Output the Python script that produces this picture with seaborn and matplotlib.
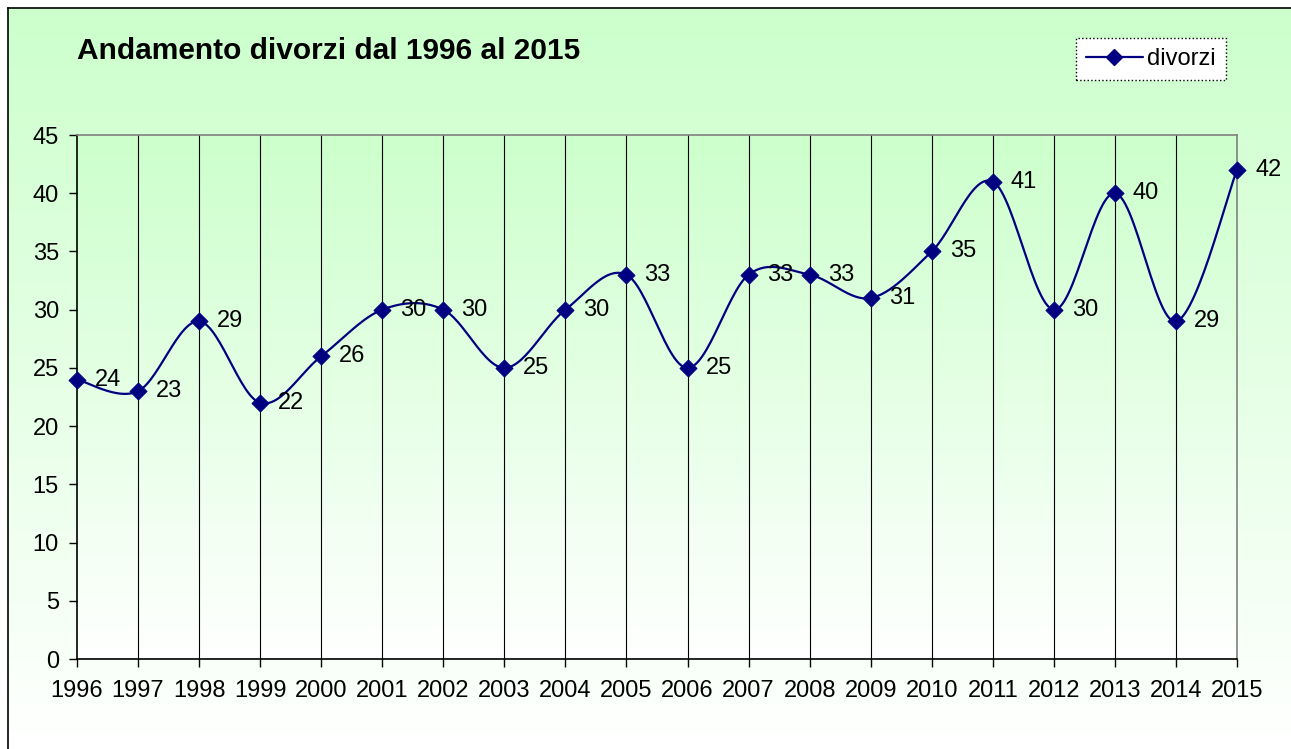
import numpy as np
import pandas as pd
import matplotlib
matplotlib.use("Agg")
import matplotlib.pyplot as plt
from matplotlib.lines import Line2D
from matplotlib.colors import LinearSegmentedColormap
import seaborn as sns

years = [1996, 1997, 1998, 1999, 2000, 2001, 2002, 2003, 2004, 2005,
         2006, 2007, 2008, 2009, 2010, 2011, 2012, 2013, 2014, 2015]
divorzi = [24, 23, 29, 22, 26, 30, 30, 25, 30, 33,
           25, 33, 33, 31, 35, 41, 30, 40, 29, 42]
yticks = [0, 5, 10, 15, 20, 25, 30, 35, 40, 45]
title = "Andamento divorzi dal 1996 al 2015"
series_name = "divorzi"

sns.set_style("white")
plt.rcParams['font.family'] = ['Liberation Sans', 'DejaVu Sans']
plt.rcParams['text.color'] = 'black'
plt.rcParams['xtick.color'] = 'black'
plt.rcParams['ytick.color'] = 'black'
plt.rcParams['axes.labelcolor'] = 'black'

W, H = 1291, 749
fig = plt.figure(figsize=(W / 100, H / 100), dpi=100)
fig.patch.set_facecolor("white")

green = "#CCFFCC"
cmap = LinearSegmentedColormap.from_list("g", ["white", green])
grad = np.linspace(0, 1, 256).reshape(-1, 1)

# figure background gradient
bg = fig.add_axes([8 / W, 0, 1 - 8 / W + 0.05, 1 - 8 / H])
bg.imshow(grad, aspect="auto", cmap=cmap, origin="lower", extent=[0, 1, 0, 1])
bg.set_xlim(0, 1); bg.set_ylim(0, 1)
bg.set_xticks([]); bg.set_yticks([])
for s in ["right", "bottom"]:
    bg.spines[s].set_visible(False)
for s in ["left", "top"]:
    bg.spines[s].set_color("black")
    bg.spines[s].set_linewidth(1.2)

# main axes
x0, x1 = 77, 1237
y0, y1 = 135, 659
ax = fig.add_axes([x0 / W, 1 - y1 / H, (x1 - x0) / W, (y1 - y0) / H])
ax.set_facecolor("none")
ax.imshow(grad, aspect="auto", cmap=cmap, origin="lower",
          extent=[years[0], years[-1], 0, 45], zorder=0)

# Excel-like smoothed curve (Catmull-Rom Bezier)
xs = np.array(years, dtype=float)
ys = np.array(divorzi, dtype=float)
n = len(xs)
cx, cy = [], []
t = np.linspace(0, 1, 30)
for i in range(n - 1):
    p0 = np.array([xs[max(i - 1, 0)], ys[max(i - 1, 0)]])
    p1 = np.array([xs[i], ys[i]])
    p2 = np.array([xs[i + 1], ys[i + 1]])
    p3 = np.array([xs[min(i + 2, n - 1)], ys[min(i + 2, n - 1)]])
    b1 = p1 + (p2 - p0) / 6
    b2 = p2 - (p3 - p1) / 6
    for tt in t:
        pt = ((1 - tt) ** 3) * p1 + 3 * ((1 - tt) ** 2) * tt * b1 + 3 * (1 - tt) * tt ** 2 * b2 + tt ** 3 * p2
        cx.append(pt[0]); cy.append(pt[1])
curve = pd.DataFrame({"x": cx, "y": cy})
df = pd.DataFrame({"anno": years, "divorzi": divorzi})

navy = "#000080"
sns.lineplot(data=curve, x="x", y="y", sort=False, color=navy, linewidth=1.6,
             ax=ax, zorder=3, estimator=None)
sns.scatterplot(data=df, x="anno", y="divorzi", marker="D", s=75, color=navy,
                edgecolor=navy, ax=ax, zorder=4, clip_on=False)

for xv, yv in zip(years, divorzi):
    ax.annotate(str(yv), (xv, yv), xytext=(13, 0), textcoords="offset points",
                va="center", ha="left", fontsize=17, color="black", zorder=5)

ax.set_xlim(years[0], years[-1])
ax.set_ylim(0, 45)
ax.set_xticks(years)
ax.set_xticklabels([str(y) for y in years], fontsize=17)
ax.set_yticks(yticks)
ax.set_yticklabels([str(v) for v in yticks], fontsize=17)
ax.set_xlabel(""); ax.set_ylabel("")
ax.tick_params(axis="x", direction="out", length=6, width=1, color="black",
               pad=9, bottom=True)
ax.tick_params(axis="y", direction="out", length=6, width=1, color="black",
               pad=7, left=True)
ax.grid(False)
for xv in years[1:-1]:
    ax.axvline(xv, color="black", linewidth=0.8, zorder=1)
ax.spines["left"].set_color("black")
ax.spines["bottom"].set_color("black")
ax.spines["top"].set_color("#808080")
ax.spines["right"].set_color("#808080")
for s in ax.spines.values():
    s.set_linewidth(1.2)
    s.set_zorder(2)

fig.text(77 / W, 1 - 51 / H, title, fontsize=21.5, fontweight="bold",
         ha="left", va="center", color="black")

handle = Line2D([0], [0], color=navy, linewidth=1.6, marker="D",
                markersize=8, markerfacecolor=navy, markeredgecolor=navy)
leg = ax.legend([handle], [series_name], loc="upper right",
                bbox_to_anchor=(1226 / W, 1 - 38 / H), bbox_transform=fig.transFigure,
                fontsize=17, frameon=True, fancybox=False, borderaxespad=0,
                handlelength=2.4, handletextpad=0.2, borderpad=0.42)
fr = leg.get_frame()
fr.set_facecolor("white")
fr.set_edgecolor("black")
fr.set_linestyle(":")
fr.set_linewidth(1)
fr.set_alpha(1)

fig.savefig("out.png", dpi=100)
